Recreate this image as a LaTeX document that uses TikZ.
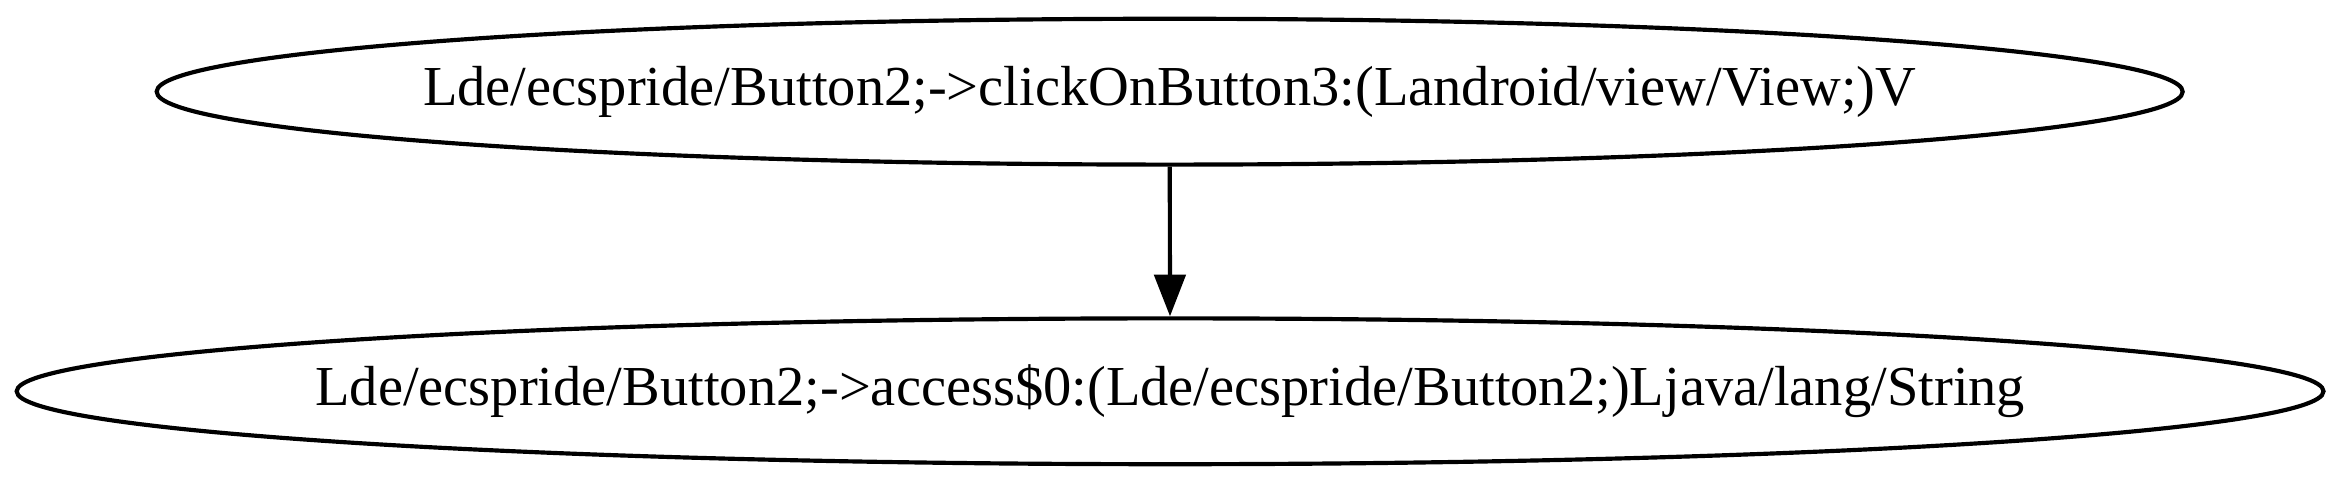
\documentclass[tikz,border=0pt]{standalone}
\usepackage{fontspec}
\setmainfont{Liberation Serif}
\usetikzlibrary{shapes.geometric,arrows.meta}
\begin{document}
\begin{tikzpicture}[x=1pt,y=1pt,
        nodo/.style={draw, ellipse, line width=1pt, inner xsep=-60pt, inner ysep=0pt,
            minimum height=35pt, font=\fontsize{13.55}{16}\selectfont},
        freccia/.style={-{Triangle[length=10pt,width=7.5pt]}, line width=1pt}]
        % Area del disegno
        \useasboundingbox (0,0) rectangle (561.8,115.9);

        % Nodi
        \node[nodo, minimum width=486.2pt] (click) at (280.7,93.9)
            {Lde/ecspride/Button2;->clickOnButton3:(Landroid/view/View;)V};
        \node[nodo, minimum width=553.6pt] (access) at (280.8,22.0)
            {Lde/ecspride/Button2;->access\$0:(Lde/ecspride/Button2;)Ljava/lang/String};

        % Arco
        \draw[freccia] (click) -- (access);
\end{tikzpicture}
\end{document}
